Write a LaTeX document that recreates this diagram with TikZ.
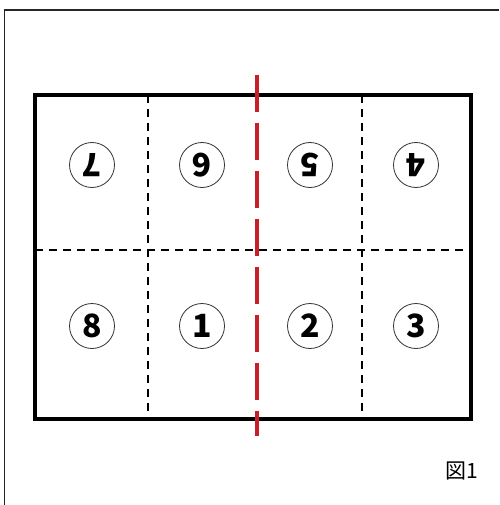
\documentclass[tikz,border=0pt]{standalone}
\usepackage{fontspec}
\newfontfamily\jpfont{Noto Sans CJK JP}
\usetikzlibrary{positioning}
\definecolor{cutred}{RGB}{200,32,42}

\begin{document}
\begin{tikzpicture}[x=1pt, y=-1pt,
  page/.style={circle, draw=black!80, line width=0.8pt, inner sep=0pt,
               minimum size=45pt, font=\jpfont\bfseries\fontsize{32}{32}\selectfont},
  flip/.style={page, rotate=180},
  fold/.style={black, line width=1.1pt, dash pattern=on 8pt off 6pt},
  cut/.style={cutred, line width=4pt, dash pattern=on 37pt off 11pt},
]
  \useasboundingbox (0,0) rectangle (499,505);

  % Frame
  \draw[black!85, line width=1.6pt] (4.5,505) -- (4.5,10) -- (499,10);

  % Sheet
  \coordinate (nw) at (35,95);
  \coordinate (se) at (471,419);

  % Fold lines
  \draw[fold] (148,95) -- (148,419);
  \draw[fold] (362,95) -- (362,419);
  \draw[fold] (35,250) -- (471,250);

  \draw[line width=4.5pt] (nw) rectangle (se);

  % Pages, upper row upside down
  \node[flip] (p7) at (92,165)  {7};
  \node[flip] (p6) at (202,165) {6};
  \node[flip] (p5) at (310,165) {5};
  \node[flip] (p4) at (416,165) {4};

  \node[page] (p8) at (92,326)  {8};
  \node[page] (p1) at (202,326) {1};
  \node[page] (p2) at (310,326) {2};
  \node[page] (p3) at (416,326) {3};

  % Cut line
  \coordinate (cuttop) at (257,75);
  \coordinate (cutbot) at (257,436);
  \draw[cut] (cuttop) -- (cutbot);

  % Caption
  \node[font=\jpfont\fontsize{21}{21}\selectfont, inner sep=0pt] (fig) at (462,471) {図1};
\end{tikzpicture}
\end{document}
